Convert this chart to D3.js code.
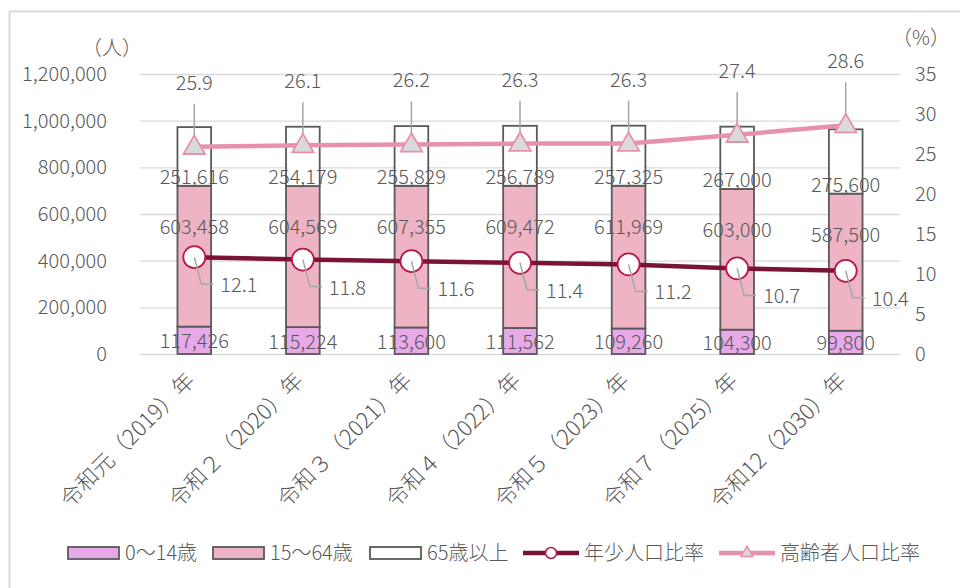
<!DOCTYPE html>
<html>
<head>
<meta charset="utf-8">
<script src="https://cdn.jsdelivr.net/npm/d3@7.9.0/dist/d3.min.js"></script>
<style>
  body { margin: 0; background: #fff; }
  text { font-family: "Noto Sans CJK JP", "Noto Sans", sans-serif; fill: #595959; font-weight: 300; }
</style>
</head>
<body>
<svg id="chart" width="960" height="588"></svg>
<script>
const categories = ['令和元（2019）年', '令和２（2020）年', '令和３（2021）年', '令和４（2022）年',
                    '令和５（2023）年', '令和７（2025）年', '令和12（2030）年'];
const age0to14 = [117426, 115224, 113600, 111562, 109260, 104300, 99800];
const age15to64 = [603458, 604569, 607355, 609472, 611969, 603000, 587500];
const age65plus = [251616, 254179, 255829, 256789, 257325, 267000, 275600];
const youthRatio = [12.1, 11.8, 11.6, 11.4, 11.2, 10.7, 10.4];
const elderRatio = [25.9, 26.1, 26.2, 26.3, 26.3, 27.4, 28.6];
const leftTicks = [0, 200000, 400000, 600000, 800000, 1000000, 1200000];
const rightTicks = [0, 5, 10, 15, 20, 25, 30, 35];

const svg = d3.select('#chart');
const margin = { top: 74, right: 60, bottom: 234, left: 140 };
const plotW = 960 - margin.left - margin.right;
const plotH = 588 - margin.top - margin.bottom;
const fs = '20px';

// outer frame (top + left only visible)
svg.append('path')
  .attr('d', 'M9.5,588 V11.5 H960')
  .attr('fill', 'none')
  .attr('stroke', '#d9d9d9')
  .attr('stroke-width', 2);

const g = svg.append('g').attr('transform', `translate(${margin.left},${margin.top})`);

const x = d3.scaleBand().domain(categories).range([0, plotW]).paddingInner(0.69).paddingOuter(0.345);
const yL = d3.scaleLinear().domain([0, 1200000]).range([plotH, 0]);
const yR = d3.scaleLinear().domain([0, 35]).range([plotH, 0]);

// gridlines
g.append('g')
  .call(d3.axisLeft(yL).tickValues(leftTicks).tickSize(-plotW).tickFormat(''))
  .call(a => a.select('.domain').remove())
  .call(a => a.selectAll('line').attr('stroke', '#d9d9d9').attr('stroke-width', 1.3));

// left axis
g.append('g')
  .attr('transform', 'translate(-30,0)')
  .call(d3.axisLeft(yL).tickValues(leftTicks).tickSize(0).tickFormat(d3.format(',')))
  .call(a => a.select('.domain').remove())
  .call(a => a.selectAll('text').attr('font-size', fs).attr('fill', '#595959'));

// right axis
g.append('g')
  .attr('transform', `translate(${plotW + 12},0)`)
  .call(d3.axisRight(yR).tickValues(rightTicks).tickSize(0))
  .call(a => a.select('.domain').remove())
  .call(a => a.selectAll('text').attr('font-size', fs).attr('fill', '#595959'));

// axis unit labels
svg.append('text').attr('x', 112).attr('y', 55).attr('text-anchor', 'middle')
  .attr('font-size', fs).text('（人）');
svg.append('text').attr('x', 921).attr('y', 45).attr('text-anchor', 'middle')
  .attr('font-size', fs).text('（%）');

// stacked bars
const stackRows = categories.map((c, i) => ({ cat: c, a: age0to14[i], b: age15to64[i], c: age65plus[i] }));
const stack = d3.stack().keys(['a', 'b', 'c'])(stackRows);
const fills = ['#e8a9e8', '#eeb4c4', '#ffffff'];

stack.forEach((layer, li) => {
  g.selectAll('.bar' + li)
    .data(layer)
    .join('rect')
    .attr('x', d => x(d.data.cat))
    .attr('y', d => yL(d[1]))
    .attr('width', x.bandwidth())
    .attr('height', d => yL(d[0]) - yL(d[1]))
    .attr('fill', fills[li])
    .attr('stroke', '#595959')
    .attr('stroke-width', 1.8);
});

// bar labels
const cx = d => x(d.data.cat) + x.bandwidth() / 2;
g.selectAll('.lab0').data(stack[0]).join('text')
  .attr('x', cx).attr('y', d => (yL(d[0]) + yL(d[1])) / 2 + 8)
  .attr('text-anchor', 'middle').attr('font-size', fs)
  .text(d => d3.format(',')(d[1] - d[0]));
g.selectAll('.lab1').data(stack[1]).join('text')
  .attr('x', cx).attr('y', d => yL(d[1]) + 48)
  .attr('text-anchor', 'middle').attr('font-size', fs)
  .text(d => d3.format(',')(d[1] - d[0]));
g.selectAll('.lab2').data(stack[2]).join('text')
  .attr('x', cx).attr('y', d => yL(d[0]) - 2)
  .attr('text-anchor', 'middle').attr('font-size', fs)
  .text(d => d3.format(',')(d[1] - d[0]));

const px = (d, i) => x(categories[i]) + x.bandwidth() / 2;

// elderly ratio line
const elderLine = d3.line().x((d, i) => px(d, i)).y(d => yR(d));
g.append('path').datum(elderRatio)
  .attr('d', elderLine).attr('fill', 'none')
  .attr('stroke', '#e891ad').attr('stroke-width', 4.5);

// elderly leader lines + labels
g.selectAll('.eLead').data(elderRatio).join('line')
  .attr('x1', px).attr('x2', px)
  .attr('y1', d => yR(d) - 43).attr('y2', d => yR(d))
  .attr('stroke', '#a6a6a6').attr('stroke-width', 1.5);
g.selectAll('.eLab').data(elderRatio).join('text')
  .attr('x', px).attr('y', d => yR(d) - 57)
  .attr('text-anchor', 'middle').attr('font-size', fs)
  .text(d => d.toFixed(1));

const tri = d3.symbol().type(d3.symbolTriangle).size(200);
g.selectAll('.eMark').data(elderRatio).join('path')
  .attr('d', tri)
  .attr('transform', (d, i) => `translate(${px(d, i)},${yR(d) + 1})`)
  .attr('fill', '#d9d9de').attr('stroke', '#e891ad').attr('stroke-width', 1.8);

// youth ratio line
const youthLine = d3.line().x((d, i) => px(d, i)).y(d => yR(d));
g.append('path').datum(youthRatio)
  .attr('d', youthLine).attr('fill', 'none')
  .attr('stroke', '#7a1436').attr('stroke-width', 4.5);

g.selectAll('.yMark').data(youthRatio).join('circle')
  .attr('cx', px).attr('cy', d => yR(d)).attr('r', 11)
  .attr('fill', '#fff').attr('stroke', '#b5184a').attr('stroke-width', 1.8);

g.selectAll('.yLead').data(youthRatio).join('polyline')
  .attr('points', (d, i) => {
    const p = px(d, i), q = yR(d);
    return `${p},${q} ${p + 7},${q + 27} ${p + 19},${q + 27}`;
  })
  .attr('fill', 'none').attr('stroke', '#a6a6a6').attr('stroke-width', 1.5);
g.selectAll('.yLab').data(youthRatio).join('text')
  .attr('x', (d, i) => px(d, i) + 26).attr('y', d => yR(d) + 35)
  .attr('font-size', fs)
  .text(d => d.toFixed(1));

// category labels
g.selectAll('.cat').data(categories).join('text')
  .attr('text-anchor', 'end')
  .attr('font-size', '22px')
  .attr('transform', d => `translate(${x(d) + x.bandwidth() / 2 + 2},${plotH + 28}) rotate(-45)`)
  .text(d => d);

// legend
const legend = svg.append('g').attr('transform', 'translate(0,553)');
const boxItems = [
  { label: '0～14歳', fill: fills[0], x: 68 },
  { label: '15～64歳', fill: fills[1], x: 213 },
  { label: '65歳以上', fill: fills[2], x: 370 }
];
boxItems.forEach(it => {
  legend.append('rect').attr('x', it.x).attr('y', -6).attr('width', 51).attr('height', 12)
    .attr('fill', it.fill).attr('stroke', '#595959').attr('stroke-width', 1.8);
  legend.append('text').attr('x', it.x + 57).attr('y', 7).attr('font-size', fs).text(it.label);
});
const lineItems = [
  { label: '年少人口比率', color: '#7a1436', x: 523, mark: 'circle' },
  { label: '高齢者人口比率', color: '#e891ad', x: 719, mark: 'tri' }
];
lineItems.forEach(it => {
  legend.append('line').attr('x1', it.x).attr('x2', it.x + 56).attr('y1', 0).attr('y2', 0)
    .attr('stroke', it.color).attr('stroke-width', 4.5);
  if (it.mark === 'circle') {
    legend.append('circle').attr('cx', it.x + 28).attr('cy', 0).attr('r', 5.5)
      .attr('fill', '#fff').attr('stroke', '#b5184a').attr('stroke-width', 1.5);
  } else {
    legend.append('path').attr('d', d3.symbol().type(d3.symbolTriangle).size(60))
      .attr('transform', `translate(${it.x + 28},0)`)
      .attr('fill', '#d9d9de').attr('stroke', '#e891ad').attr('stroke-width', 1.5);
  }
  legend.append('text').attr('x', it.x + 61).attr('y', 7).attr('font-size', fs).text(it.label);
});
</script>
</body>
</html>
